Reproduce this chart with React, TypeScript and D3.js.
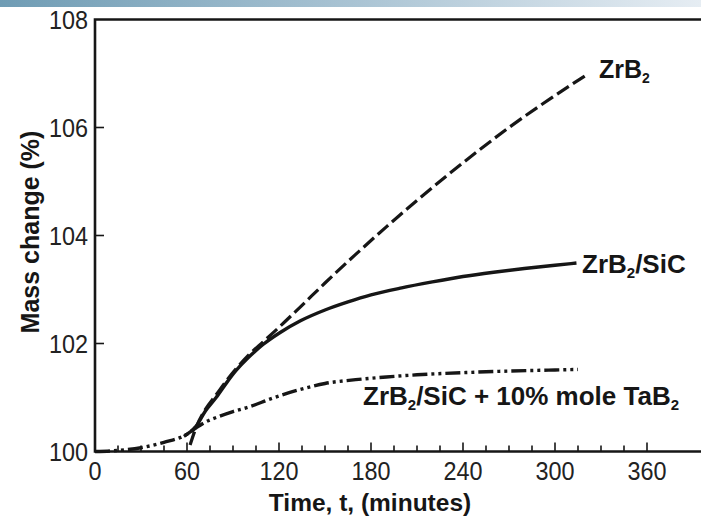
import React from "react";
import * as d3 from "d3";

const xTicks = [0, 60, 120, 180, 240, 300, 360];
const yTicks = [100, 102, 104, 106, 108];

const zrb2T = [62, 66, 72, 79, 86, 92, 100, 110, 120, 134, 150, 170, 190, 210, 230, 250, 270, 290, 310, 322];
const zrb2V = [100.12, 100.45, 100.78, 101.05, 101.32, 101.53, 101.78, 102.04, 102.3, 102.68, 103.12, 103.65, 104.16, 104.65, 105.12, 105.57, 106.0, 106.4, 106.78, 107.0];

const sicT = [58, 62, 66, 72, 79, 86, 92, 100, 105, 110, 120, 134, 150, 165, 180, 200, 220, 240, 260, 280, 300, 314];
const sicV = [100.28, 100.36, 100.47, 100.75, 101.0, 101.28, 101.5, 101.74, 101.87, 101.99, 102.19, 102.42, 102.62, 102.77, 102.9, 103.03, 103.14, 103.24, 103.32, 103.39, 103.45, 103.49];

const tabT = [0, 15, 30, 45, 60, 66, 71, 80, 90, 101, 115, 134, 150, 170, 190, 210, 240, 270, 300, 315];
const tabV = [100.0, 100.02, 100.07, 100.17, 100.32, 100.44, 100.53, 100.64, 100.74, 100.83, 100.98, 101.15, 101.26, 101.33, 101.38, 101.42, 101.46, 101.49, 101.51, 101.52];

const W = 701;
const H = 517;

export default function App() {
  const x = d3.scaleLinear().domain([0, 400]).range([95, 95 + 400 * (92 / 60)]);
  const y = d3.scaleLinear().domain([100, 108]).range([451.5, 19.5]);
  const line = d3
    .line<[number, number]>()
    .x((d) => x(d[0]))
    .y((d) => y(d[1]))
    .curve(d3.curveMonotoneX);
  const zip = (a: number[], b: number[]) => a.map((t, i) => [t, b[i]] as [number, number]);
  const minor = d3.range(15, 361, 15);
  const ink = "#161616";
  const font = "'Liberation Sans', Arial, Helvetica, sans-serif";
  return (
    <div style={{ position: "fixed", left: 0, top: 0, width: W, height: H, background: "#fff" }}>
      <svg width={W} height={H} style={{ display: "block" }} fontFamily={font}>
        <defs>
          <linearGradient id="topbar" x1="0" x2="1" y1="0" y2="0">
            <stop offset="0" stopColor="#6f9cb4" />
            <stop offset="0.5" stopColor="#a9c3d3" />
            <stop offset="1" stopColor="#e6edf3" />
          </linearGradient>
        </defs>
        <rect x={0} y={0} width={W} height={7} fill="url(#topbar)" />
        <path
          d={`M${W + 2},${y(108)} L${x(0)},${y(108)} L${x(0)},${y(100)} L${W + 2},${y(100)}`}
          fill="none"
          stroke={ink}
          strokeWidth={2.6}
        />
        {minor.map((t) => (
          <line
            key={t}
            x1={x(t)}
            x2={x(t)}
            y1={y(100)}
            y2={y(100) - (t % 60 === 0 ? 9 : 6)}
            stroke={ink}
            strokeWidth={1.6}
          />
        ))}
        {yTicks.slice(1, -1).map((v) => (
          <line key={v} x1={x(0)} x2={x(0) + 9} y1={y(v)} y2={y(v)} stroke={ink} strokeWidth={1.6} />
        ))}
        {xTicks.map((t) => (
          <text
            key={t}
            transform={`translate(${x(t)},480) scale(0.9,1)`}
            textAnchor="middle"
            fontSize={26}
            fill="#222"
          >
            {t}
          </text>
        ))}
        {yTicks.map((v) => (
          <text
            key={v}
            transform={`translate(88,${y(v) + 9.5}) scale(0.9,1)`}
            textAnchor="end"
            fontSize={26}
            fill="#222"
          >
            {v}
          </text>
        ))}
        <text x={370} y={511} textAnchor="middle" fontSize={24.5} fontWeight="bold" fill={ink}>
          Time, t, (minutes)
        </text>
        <text
          transform={`translate(39,232) rotate(-90)`}
          textAnchor="middle"
          fontSize={25}
          fontWeight="bold"
          fill={ink}
        >
          Mass change (%)
        </text>
        <path d={line(zip(tabT, tabV)) || ""} fill="none" stroke={ink} strokeWidth={3.4} strokeDasharray="15 4 3 4 3 4" />
        <path d={line(zip(sicT, sicV)) || ""} fill="none" stroke={ink} strokeWidth={3.4} />
        <path d={line(zip(zrb2T, zrb2V)) || ""} fill="none" stroke={ink} strokeWidth={3.2} strokeDasharray="14 5" />
        <text x={599} y={78} fontSize={25} fontWeight="bold" fill={ink}>
          ZrB<tspan fontSize={14} dy={5}>2</tspan>
        </text>
        <text x={582} y={273} fontSize={26} fontWeight="bold" fill={ink}>
          ZrB<tspan fontSize={15} dy={5}>2</tspan>
          <tspan dy={-5}>/SiC</tspan>
        </text>
        <text x={363} y={405} fontSize={26} fontWeight="bold" fill={ink}>
          ZrB<tspan fontSize={15} dy={5}>2</tspan>
          <tspan dy={-5}>/SiC + 10% mole TaB</tspan>
          <tspan fontSize={15} dy={5}>2</tspan>
        </text>
      </svg>
    </div>
  );
}
